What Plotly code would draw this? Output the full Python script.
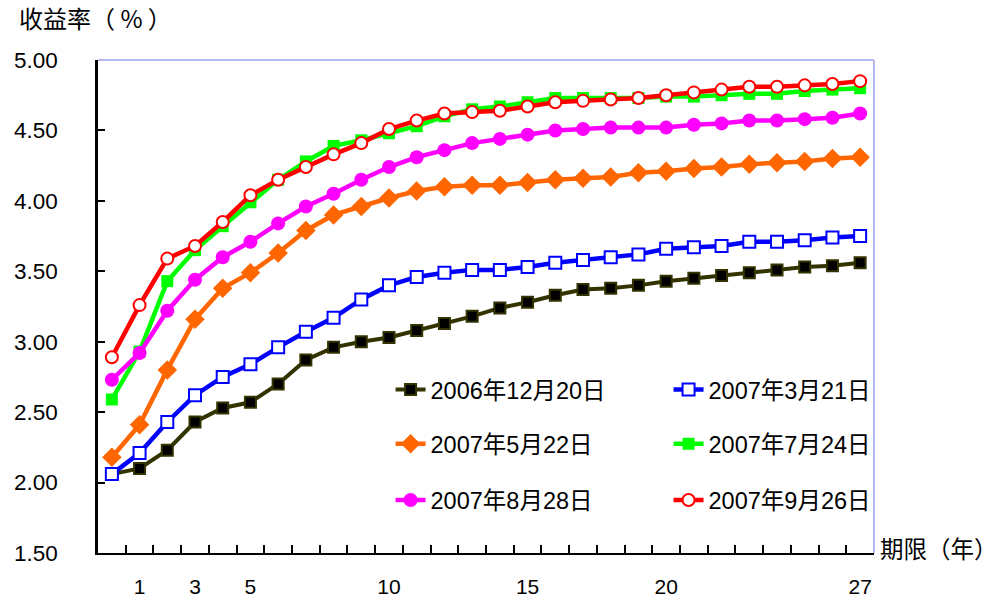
import plotly.graph_objects as go

terms = list(range(28))
tick_vals = [1, 3, 5, 10, 15, 20, 27]
tick_text = ["1", "3", "5", "10", "15", "20", "27"]

y_ticks = [1.5, 2.0, 2.5, 3.0, 3.5, 4.0, 4.5, 5.0]

s_20061220 = [2.06, 2.10, 2.23, 2.43, 2.53, 2.57, 2.70, 2.87, 2.96, 3.00, 3.03, 3.08, 3.13, 3.18,
              3.24, 3.28, 3.33, 3.37, 3.38, 3.40, 3.43, 3.45, 3.47, 3.49, 3.51, 3.53, 3.54, 3.56]
s_20070321 = [2.06, 2.21, 2.43, 2.62, 2.75, 2.84, 2.96, 3.07, 3.17, 3.30, 3.40, 3.46, 3.49, 3.51,
              3.51, 3.53, 3.56, 3.58, 3.60, 3.62, 3.66, 3.67, 3.68, 3.71, 3.71, 3.72, 3.74, 3.75]
s_20070522 = [2.18, 2.41, 2.80, 3.16, 3.38, 3.49, 3.63, 3.79, 3.90, 3.96, 4.02, 4.07, 4.10, 4.11,
              4.11, 4.13, 4.15, 4.16, 4.17, 4.20, 4.21, 4.23, 4.24, 4.26, 4.27, 4.28, 4.30, 4.31]
s_20070724 = [2.59, 2.93, 3.43, 3.65, 3.82, 3.99, 4.15, 4.28, 4.39, 4.43, 4.48, 4.53, 4.60, 4.65,
              4.67, 4.70, 4.73, 4.73, 4.73, 4.73, 4.74, 4.74, 4.75, 4.76, 4.76, 4.78, 4.79, 4.80]
s_20070828 = [2.73, 2.92, 3.22, 3.44, 3.60, 3.71, 3.84, 3.96, 4.05, 4.15, 4.24, 4.31, 4.36, 4.41,
              4.44, 4.47, 4.50, 4.51, 4.52, 4.52, 4.52, 4.54, 4.55, 4.57, 4.57, 4.58, 4.59, 4.62]
s_20070926 = [2.89, 3.26, 3.59, 3.68, 3.85, 4.04, 4.15, 4.24, 4.33, 4.41, 4.51, 4.57, 4.62, 4.63,
              4.64, 4.67, 4.70, 4.71, 4.72, 4.73, 4.75, 4.77, 4.79, 4.81, 4.81, 4.82, 4.83, 4.85]

names = ["2006年12月20日", "2007年3月21日", "2007年5月22日",
         "2007年7月24日", "2007年8月28日", "2007年9月26日"]

FONT = "Liberation Sans, Arial, Noto Sans CJK SC, sans-serif"
CJK = "Noto Sans CJK SC, sans-serif"

fig = go.Figure()

styles = [
    (s_20061220, names[0], "#333300", dict(symbol="square", size=11, color="#000000",
                                           line=dict(color="#333300", width=2)), 4, "legend"),
    (s_20070321, names[1], "#0000ff", dict(symbol="square", size=12, color="#ffffff",
                                           line=dict(color="#0000ff", width=2)), 4.5, "legend"),
    (s_20070522, names[2], "#ff6600", dict(symbol="diamond", size=15, color="#ff6600",
                                           line=dict(width=0)), 4.5, "legend2"),
    (s_20070724, names[3], "#00ff00", dict(symbol="square", size=12, color="#00ff00",
                                           line=dict(width=0)), 4.5, "legend2"),
    (s_20070828, names[4], "#ff00ff", dict(symbol="circle", size=14, color="#ff00ff",
                                           line=dict(width=0)), 4.5, "legend3"),
    (s_20070926, names[5], "#ff0000", dict(symbol="circle", size=12, color="#ffffff",
                                           line=dict(color="#ff0000", width=2)), 4.5, "legend3"),
]

for vals, name, col, mk, lw, lg in styles:
    fig.add_trace(go.Scatter(
        x=terms, y=vals, name=name, mode="lines+markers",
        line=dict(color=col, width=lw), marker=mk, legend=lg,
    ))

# helper trace so the label axis is drawn
fig.add_trace(go.Scatter(x=[terms[0]], y=[None], xaxis="x2", showlegend=False,
                         hoverinfo="skip"))

legend_common = dict(
    orientation="h", xanchor="left", yanchor="middle", x=0.377,
    font=dict(family=FONT, size=23.5, color="#000000"),
    entrywidth=233, entrywidthmode="pixels", bgcolor="rgba(0,0,0,0)",
    borderwidth=0, itemsizing="trace", tracegroupgap=0,
)

fig.update_layout(
    width=1000, height=601,
    margin=dict(l=98, r=126, t=60, b=48, autoexpand=False),
    paper_bgcolor="#ffffff", plot_bgcolor="#ffffff",
    font=dict(family=FONT, size=21, color="#000000"),
    showlegend=True,
    legend=dict(legend_common, y=0.331),
    legend2=dict(legend_common, y=0.221),
    legend3=dict(legend_common, y=0.107),
    xaxis=dict(
        range=[-0.5, 27.5], showgrid=False, zeroline=False, automargin=False,
        tickmode="linear", tick0=-0.5, dtick=1,
        ticks="inside", ticklen=8, tickwidth=2, tickcolor="#000000",
        showticklabels=False,
        showline=True, linecolor="#000000", linewidth=2,
    ),
    xaxis2=dict(
        range=[-0.5, 27.5], overlaying="x", anchor="y", side="bottom",
        showgrid=False, zeroline=False, showline=False, automargin=False,
        tickmode="array", tickvals=tick_vals, ticktext=tick_text,
        ticks="", ticklabelstandoff=19,
        tickfont=dict(family=FONT, size=21, color="#000000"),
    ),
    yaxis=dict(
        range=[1.5, 5.0], tickmode="array", tickvals=y_ticks,
        ticktext=[f"{v:.2f}" for v in y_ticks],
        showgrid=False, zeroline=False, automargin=False,
        ticks="inside", ticklen=7, tickwidth=2, tickcolor="#000000",
        ticklabelstandoff=33,
        tickfont=dict(family=FONT, size=22.5, color="#000000"),
        showline=True, linecolor="#000000", linewidth=2.5,
    ),
    shapes=[
        dict(type="line", xref="paper", yref="paper", x0=0, x1=1, y0=1, y1=1,
             line=dict(color="#b8b8f0", width=2), layer="below"),
        dict(type="line", xref="paper", yref="paper", x0=1, x1=1, y0=0, y1=1,
             line=dict(color="#b8b8f0", width=2), layer="below"),
    ],
    annotations=[
        dict(text="收益率（ % ）", xref="paper", yref="paper", x=-0.104, y=1.087,
             xanchor="left", yanchor="middle", showarrow=False,
             font=dict(family=CJK, size=24, color="#000000")),
        dict(text="期限（年）", xref="paper", yref="paper", x=1.005, y=0.01,
             xanchor="left", yanchor="middle", showarrow=False,
             font=dict(family=CJK, size=23.5, color="#000000")),
    ],
)

fig.write_html(
    "out.html",
    config={"displayModeBar": False},
    post_script="document.body.style.margin='0';document.body.style.overflow='hidden';",
)
